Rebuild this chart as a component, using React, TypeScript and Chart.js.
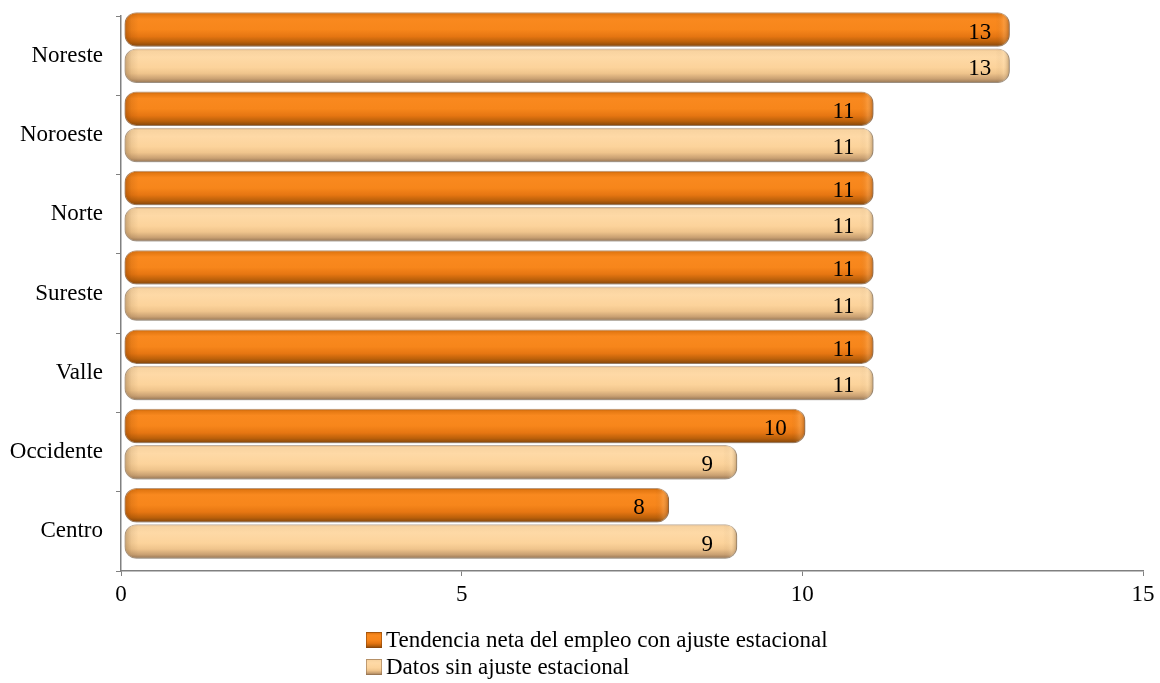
import React, { useEffect, useRef } from 'react';
import { Chart, registerables } from 'chart.js';

Chart.register(...registerables);

const categories = ['Noreste', 'Noroeste', 'Norte', 'Sureste', 'Valle', 'Occidente', 'Centro'];
const adjustedValues = [13, 11, 11, 11, 11, 10, 8];
const unadjustedValues = [13, 11, 11, 11, 11, 9, 9];
const seriesNames = ['Tendencia neta del empleo con ajuste estacional', 'Datos sin ajuste estacional'];
const xMin = 0;
const xMax = 15;
const xStep = 5;

const FONT_FAMILY = '"Liberation Serif", "Times New Roman", serif';

const darkStops: [number, string][] = [
  [0, '#b8600c'], [0.07, '#e47812'], [0.2, '#f9891f'], [0.5, '#f7861b'], [0.7, '#e67612'], [0.86, '#bb600a'], [1, '#7e440c'],
];
const lightStops: [number, string][] = [
  [0, '#d8ac7c'], [0.07, '#f8d3a0'], [0.25, '#fed9a6'], [0.55, '#fcd39b'], [0.72, '#efc48c'], [0.88, '#c9a072'], [1, '#917253'],
];

function makeGradient(ctx: CanvasRenderingContext2D, top: number, bottom: number, stops: [number, string][]) {
  const g = ctx.createLinearGradient(0, top, 0, bottom);
  stops.forEach(([o, c]) => g.addColorStop(o, c));
  return g;
}

const SHIFT_X = 3;
const SHIFT_Y = -8;
const RADIUS = 12;

function roundRectPath(ctx: CanvasRenderingContext2D, x: number, y: number, w: number, h: number, r: number) {
  const rr = Math.min(r, h / 2, w / 2);
  ctx.beginPath();
  ctx.moveTo(x + rr, y);
  ctx.lineTo(x + w - rr, y);
  ctx.arcTo(x + w, y, x + w, y + rr, rr);
  ctx.lineTo(x + w, y + h - rr);
  ctx.arcTo(x + w, y + h, x + w - rr, y + h, rr);
  ctx.lineTo(x + rr, y + h);
  ctx.arcTo(x, y + h, x, y + h - rr, rr);
  ctx.lineTo(x, y + rr);
  ctx.arcTo(x, y, x + rr, y, rr);
  ctx.closePath();
}

const barStylePlugin = {
  id: 'barStyle',
  beforeDatasetsDraw(chart: any) {
    const ctx: CanvasRenderingContext2D = chart.ctx;
    ctx.save();
    ctx.translate(SHIFT_X, SHIFT_Y);
    chart.data.datasets.forEach((_ds: any, di: number) => {
      const meta = chart.getDatasetMeta(di);
      meta.data.forEach((el: any) => {
        const { y, height } = el.getProps(['y', 'height'], true);
        el.options.backgroundColor = makeGradient(ctx, y - height / 2, y + height / 2, di === 0 ? darkStops : lightStops);
      });
    });
    ctx.shadowColor = 'rgba(0,0,0,0.3)';
    ctx.shadowBlur = 4;
    ctx.shadowOffsetX = 2;
    ctx.shadowOffsetY = 2;
  },
  afterDatasetsDraw(chart: any) {
    const ctx: CanvasRenderingContext2D = chart.ctx;
    ctx.shadowColor = 'transparent';
    ctx.shadowBlur = 0;
    ctx.shadowOffsetX = 0;
    ctx.shadowOffsetY = 0;
    chart.data.datasets.forEach((_ds: any, di: number) => {
      const meta = chart.getDatasetMeta(di);
      meta.data.forEach((el: any) => {
        const { x, y, base, height } = el.getProps(['x', 'y', 'base', 'height'], true);
        const left = Math.min(base, x);
        const w = Math.abs(x - base);
        const top = y - height / 2;
        if (w < 2) return;
        ctx.save();
        roundRectPath(ctx, left, top, w, height, RADIUS);
        ctx.clip();
        const edge = di === 0 ? 'rgba(120,55,0,' : 'rgba(130,95,55,';
        const g = ctx.createLinearGradient(left, 0, left + w, 0);
        const f = Math.min(0.45, 14 / w);
        g.addColorStop(0, edge + '0.45)');
        g.addColorStop(f * 0.5, edge + '0.12)');
        g.addColorStop(f, edge + '0)');
        g.addColorStop(1 - f, edge + '0)');
        g.addColorStop(1 - f * 0.45, 'rgba(255,235,200,0.15)');
        g.addColorStop(1, edge + '0.5)');
        ctx.fillStyle = g;
        ctx.fillRect(left, top, w, height);
        ctx.restore();
      });
    });
    ctx.font = `23px ${FONT_FAMILY}`;
    ctx.fillStyle = '#000';
    ctx.textAlign = 'center';
    ctx.textBaseline = 'middle';
    chart.data.datasets.forEach((ds: any, di: number) => {
      const meta = chart.getDatasetMeta(di);
      meta.data.forEach((el: any, i: number) => {
        const { x, y } = el.getProps(['x', 'y'], true);
        ctx.fillText(String(ds.data[i]), x - 30, y + 3);
      });
    });
    ctx.restore();
  },
};

const legendPlugin = {
  id: 'customLegend',
  afterDraw(chart: any) {
    const ctx: CanvasRenderingContext2D = chart.ctx;
    ctx.save();
    ctx.font = `23px ${FONT_FAMILY}`;
    ctx.textAlign = 'left';
    ctx.textBaseline = 'middle';
    const left = 366;
    const rowsY = [640, 667];
    seriesNames.forEach((name, i) => {
      const cy = rowsY[i];
      const box = 16;
      const top = cy - box / 2;
      ctx.fillStyle = makeGradient(ctx, top, top + box, i === 0 ? darkStops : lightStops);
      ctx.fillRect(left, top, box, box);
      ctx.strokeStyle = i === 0 ? 'rgba(140,70,10,0.6)' : 'rgba(150,115,80,0.6)';
      ctx.lineWidth = 1;
      ctx.strokeRect(left + 0.5, top + 0.5, box - 1, box - 1);
      ctx.fillStyle = '#000';
      ctx.fillText(name, left + 20, cy + 1);
    });
    ctx.restore();
  },
};

export default function App() {
  const canvasRef = useRef<HTMLCanvasElement | null>(null);

  useEffect(() => {
    if (!canvasRef.current) return;
    const chart = new Chart(canvasRef.current, {
      type: 'bar',
      data: {
        labels: categories,
        datasets: [
          {
            label: seriesNames[0],
            data: adjustedValues,
            backgroundColor: () => '#f6861a',
            borderColor: 'rgba(140,70,10,0.5)',
            borderWidth: 1,
            borderRadius: RADIUS,
            borderSkipped: false,
          },
          {
            label: seriesNames[1],
            data: unadjustedValues,
            backgroundColor: () => '#fbcf96',
            borderColor: 'rgba(150,115,80,0.5)',
            borderWidth: 1,
            borderRadius: RADIUS,
            borderSkipped: false,
          },
        ],
      },
      options: {
        indexAxis: 'y',
        animation: false,
        responsive: true,
        maintainAspectRatio: false,
        datasets: { bar: { categoryPercentage: 0.915, barPercentage: 0.95 } },
        layout: { padding: { top: 16, right: 17, left: 0, bottom: 0 } },
        plugins: {
          legend: { display: false },
          tooltip: { enabled: false },
        },
        scales: {
          x: {
            min: xMin,
            max: xMax,
            ticks: { stepSize: xStep, color: '#000', font: { family: FONT_FAMILY, size: 23 }, padding: 5 },
            grid: { drawOnChartArea: false, tickLength: 5, color: '#808080' },
            border: { color: '#808080', width: 1.5 },
            afterFit(scale: any) {
              scale.height = 112;
            },
          },
          y: {
            ticks: { color: '#000', font: { family: FONT_FAMILY, size: 23 }, padding: 13 },
            grid: { drawOnChartArea: false, tickLength: 5, color: '#808080', offset: true },
            border: { color: '#808080', width: 1.5 },
            afterFit(scale: any) {
              scale.width = 121;
              scale.paddingTop = 0;
              scale.paddingBottom = 0;
            },
          },
        },
      } as any,
      plugins: [barStylePlugin, legendPlugin],
    });
    return () => chart.destroy();
  }, []);

  return (
    <div style={{ position: 'fixed', left: 0, top: 0, width: 1160, height: 683, background: '#fff' }}>
      <canvas ref={canvasRef} />
    </div>
  );
}
